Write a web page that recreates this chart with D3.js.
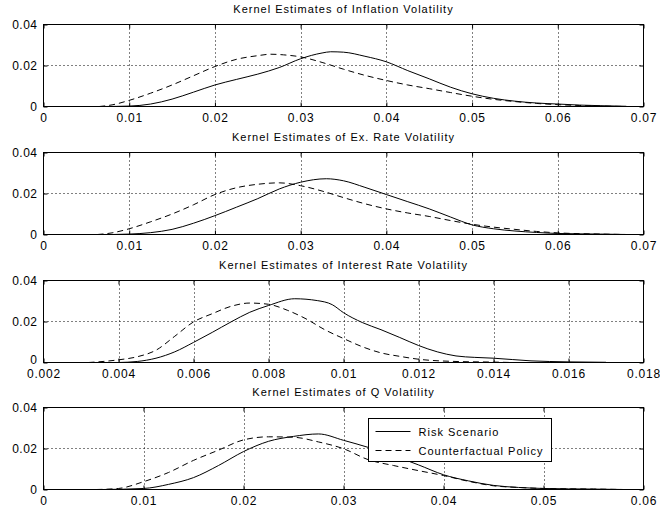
<html>

<head>
    <script src="https://d3js.org/d3.v7.min.js"></script>
    <style>
        body { margin: 0; background: #fff; }
        text { font-family: "Liberation Sans", Arial, sans-serif; }
    </style>
</head>

<body></body>
<script>

    // panel titles
    var titles = [
        "Kernel Estimates of Inflation Volatility",
        "Kernel Estimates of Ex. Rate Volatility",
        "Kernel Estimates of Interest Rate Volatility",
        "Kernel Estimates of Q Volatility"
    ];

    // x axis domains and ticks
    var xDomains = [[0, 0.07], [0, 0.07], [0.002, 0.018], [0, 0.06]];
    var xTicks = [
        [0, 0.01, 0.02, 0.03, 0.04, 0.05, 0.06, 0.07],
        [0, 0.01, 0.02, 0.03, 0.04, 0.05, 0.06, 0.07],
        [0.002, 0.004, 0.006, 0.008, 0.01, 0.012, 0.014, 0.016, 0.018],
        [0, 0.01, 0.02, 0.03, 0.04, 0.05, 0.06]
    ];
    var xTickLabels = [
        ["0", "0.01", "0.02", "0.03", "0.04", "0.05", "0.06", "0.07"],
        ["0", "0.01", "0.02", "0.03", "0.04", "0.05", "0.06", "0.07"],
        ["0.002", "0.004", "0.006", "0.008", "0.01", "0.012", "0.014", "0.016", "0.018"],
        ["0", "0.01", "0.02", "0.03", "0.04", "0.05", "0.06"]
    ];
    var yTicks = [0, 0.02, 0.04];
    var yTickLabels = ["0", "0.02", "0.04"];

    // inflation volatility
    var infRiskX = [0.007, 0.01, 0.0125, 0.015, 0.0175, 0.02, 0.0225, 0.025, 0.0275, 0.03, 0.0325, 0.0335, 0.035, 0.0375, 0.04, 0.0425, 0.045, 0.0475, 0.05, 0.0525, 0.055, 0.0575, 0.06, 0.0625, 0.065, 0.068];
    var infRiskY = [0, 0.0002, 0.0012, 0.0036, 0.007, 0.0105, 0.0132, 0.0158, 0.019, 0.0233, 0.0261, 0.0267, 0.0265, 0.0245, 0.0218, 0.0175, 0.0135, 0.0094, 0.0062, 0.004, 0.0026, 0.0017, 0.0012, 0.0007, 0.0004, 0.0001];
    var infCfX = [0.0065, 0.008, 0.01, 0.0125, 0.015, 0.0175, 0.02, 0.0225, 0.025, 0.0265, 0.028, 0.03, 0.0325, 0.035, 0.0375, 0.04, 0.0425, 0.045, 0.0475, 0.05, 0.0525, 0.055, 0.0575, 0.06, 0.0625, 0.065, 0.068];
    var infCfY = [0, 0.0008, 0.003, 0.0065, 0.0105, 0.015, 0.0195, 0.023, 0.0248, 0.0255, 0.0252, 0.0242, 0.0215, 0.0182, 0.0152, 0.0127, 0.0105, 0.0087, 0.0068, 0.005, 0.0035, 0.0024, 0.0015, 0.0009, 0.0005, 0.0002, 0];

    // exchange rate volatility
    var exRiskX = [0.008, 0.01, 0.0125, 0.015, 0.0175, 0.02, 0.0225, 0.025, 0.0275, 0.03, 0.033, 0.035, 0.0375, 0.04, 0.0425, 0.045, 0.0475, 0.05, 0.0525, 0.055, 0.0575, 0.06, 0.065, 0.068];
    var exRiskY = [0, 0.0002, 0.0009, 0.0025, 0.0055, 0.0092, 0.0133, 0.0175, 0.0222, 0.0255, 0.0272, 0.0262, 0.023, 0.0195, 0.016, 0.0125, 0.0085, 0.0047, 0.0028, 0.0017, 0.001, 0.0005, 0.0002, 0];
    var exCfX = [0.0063, 0.008, 0.01, 0.0125, 0.015, 0.0175, 0.02, 0.0225, 0.025, 0.0275, 0.03, 0.0325, 0.035, 0.0375, 0.04, 0.0425, 0.045, 0.0475, 0.05, 0.0525, 0.055, 0.0575, 0.06, 0.065, 0.068];
    var exCfY = [0, 0.0008, 0.0028, 0.0062, 0.01, 0.0145, 0.0195, 0.0228, 0.0245, 0.0252, 0.0238, 0.0212, 0.018, 0.015, 0.0125, 0.0105, 0.0088, 0.0068, 0.005, 0.0036, 0.0025, 0.0015, 0.0008, 0.0002, 0];

    // interest rate volatility
    var irRiskX = [0.004, 0.0045, 0.005, 0.0055, 0.006, 0.0065, 0.007, 0.0075, 0.008, 0.0087, 0.0093, 0.0097, 0.01, 0.0105, 0.011, 0.0115, 0.012, 0.0125, 0.013, 0.0135, 0.014, 0.015, 0.016, 0.017];
    var irRiskY = [0, 0.0005, 0.0021, 0.0052, 0.0098, 0.0147, 0.0198, 0.0245, 0.0278, 0.0311, 0.0302, 0.0282, 0.0243, 0.0195, 0.016, 0.0122, 0.0083, 0.0052, 0.0032, 0.0025, 0.0021, 0.0008, 0.0003, 0.0001];
    var irCfX = [0.0032, 0.004, 0.0045, 0.005, 0.0055, 0.006, 0.0065, 0.007, 0.0075, 0.008, 0.0085, 0.009, 0.0095, 0.01, 0.0105, 0.011, 0.0115, 0.012, 0.013, 0.014, 0.0145];
    var irCfY = [0, 0.0013, 0.0028, 0.006, 0.0128, 0.0198, 0.0238, 0.0274, 0.029, 0.0284, 0.0255, 0.0213, 0.016, 0.0117, 0.0077, 0.0047, 0.003, 0.0016, 0.0005, 0.0002, 0];

    // Q volatility
    var qRiskX = [0.006, 0.01, 0.0125, 0.015, 0.0175, 0.02, 0.0225, 0.025, 0.0275, 0.03, 0.0325, 0.035, 0.0375, 0.04, 0.0425, 0.045, 0.0475, 0.05, 0.055, 0.058];
    var qRiskY = [0, 0.0005, 0.0025, 0.0058, 0.0117, 0.0185, 0.0235, 0.0259, 0.0271, 0.024, 0.0205, 0.0165, 0.012, 0.0072, 0.0042, 0.002, 0.001, 0.0005, 0.0002, 0];
    var qCfX = [0.0053, 0.0075, 0.01, 0.0125, 0.015, 0.0175, 0.02, 0.0225, 0.025, 0.0275, 0.03, 0.0325, 0.035, 0.0375, 0.04, 0.0425, 0.045, 0.0475, 0.05, 0.055, 0.058];
    var qCfY = [0, 0.0005, 0.0038, 0.0083, 0.0142, 0.0192, 0.0242, 0.0257, 0.0255, 0.0232, 0.0199, 0.0145, 0.0117, 0.0092, 0.0068, 0.004, 0.0018, 0.001, 0.0005, 0.0002, 0];

    var riskX = [infRiskX, exRiskX, irRiskX, qRiskX];
    var riskY = [infRiskY, exRiskY, irRiskY, qRiskY];
    var cfX = [infCfX, exCfX, irCfX, qCfX];
    var cfY = [infCfY, exCfY, irCfY, qCfY];

    var legendLabels = ["Risk Scenario", "Counterfactual Policy"];

    // layout
    var left = 43.5, right = 643.5;
    var tops = [24.5, 152.5, 280.5, 407.5];
    var ph = 82;

    var svg = d3.select("body")
        .append("svg")
        .attr("width", 660)
        .attr("height", 512);

    titles.forEach(function (title, i) {
        var top = tops[i];
        var g = svg.append("g");

        var x = d3.scaleLinear().domain(xDomains[i]).range([left, right]);
        var y = d3.scaleLinear().domain([0, 0.04]).range([top + ph, top]);

        // dotted grid
        g.selectAll(".vgrid")
            .data(xTicks[i].slice(1, -1))
            .enter()
            .append("line")
            .attr("x1", d => Math.round(x(d)) + 0.5)
            .attr("x2", d => Math.round(x(d)) + 0.5)
            .attr("y1", top)
            .attr("y2", top + ph)
            .style("stroke", "#000")
            .style("stroke-width", 1)
            .style("stroke-dasharray", "1,3");

        g.append("line")
            .attr("x1", left)
            .attr("x2", right)
            .attr("y1", y(0.02))
            .attr("y2", y(0.02))
            .style("stroke", "#000")
            .style("stroke-dasharray", "1,3");

        // curves
        var makeLine = function (xs, ys) {
            return d3.line()
                .x(d => x(d))
                .y((d, k) => y(ys[k]))
                .curve(d3.curveMonotoneX)(xs);
        };

        g.append("path")
            .attr("d", makeLine(riskX[i], riskY[i]))
            .style("fill", "none")
            .style("stroke", "#000")
            .style("stroke-width", 1);

        g.append("path")
            .attr("d", makeLine(cfX[i], cfY[i]))
            .style("fill", "none")
            .style("stroke", "#000")
            .style("stroke-width", 1)
            .style("stroke-dasharray", "6,4");

        // frame
        g.append("rect")
            .attr("x", left)
            .attr("y", top)
            .attr("width", right - left)
            .attr("height", ph)
            .style("fill", "none")
            .style("stroke", "#000")
            .style("stroke-width", 1);

        // inward ticks (bottom/top)
        var bottomAxis = d3.axisBottom(x)
            .tickValues(xTicks[i])
            .tickSize(-4)
            .tickPadding(7)
            .tickFormat((d, k) => xTickLabels[i][k]);
        var xa = g.append("g")
            .attr("transform", "translate(0," + (top + ph) + ")")
            .call(bottomAxis);
        xa.select(".domain").remove();
        xa.selectAll("text")
            .style("font-size", "12px")
            .style("letter-spacing", "0.8px")
            .style("font-family", "'Liberation Sans', Arial, sans-serif")
            .attr("fill", "#000");

        var topAxis = d3.axisTop(x).tickValues(xTicks[i]).tickSize(-4).tickFormat("");
        var xt = g.append("g")
            .attr("transform", "translate(0," + top + ")")
            .call(topAxis);
        xt.select(".domain").remove();

        var leftAxis = d3.axisLeft(y)
            .tickValues(yTicks)
            .tickSize(-4)
            .tickPadding(6)
            .tickFormat((d, k) => yTickLabels[k]);
        var ya = g.append("g")
            .attr("transform", "translate(" + left + ",0)")
            .call(leftAxis);
        ya.select(".domain").remove();
        ya.selectAll("text")
            .style("font-size", "12px")
            .style("letter-spacing", "0.5px")
            .style("font-family", "'Liberation Sans', Arial, sans-serif")
            .attr("fill", "#000");

        // the "0" label sits right above the first x label in the third panel
        if (xDomains[i][0] > 0) {
            ya.selectAll("text").filter(d => d == 0).attr("dy", "0.12em");
        }

        var rightAxis = d3.axisRight(y).tickValues(yTicks).tickSize(-4).tickFormat("");
        var yr = g.append("g")
            .attr("transform", "translate(" + right + ",0)")
            .call(rightAxis);
        yr.select(".domain").remove();

        // title
        g.append("text")
            .attr("x", (left + right) / 2)
            .attr("y", top - 11.5)
            .style("text-anchor", "middle")
            .style("font-size", "11px")
            .style("letter-spacing", "1px")
            .text(title);
    });

    // legend in the last panel
    var lg = svg.append("g").attr("transform", "translate(368.5,418.5)");
    lg.append("rect")
        .attr("width", 183)
        .attr("height", 43)
        .style("fill", "#fff")
        .style("stroke", "#000");
    legendLabels.forEach(function (lab, k) {
        var ly = 13 + k * 19;
        lg.append("line")
            .attr("x1", 7)
            .attr("x2", 42)
            .attr("y1", ly)
            .attr("y2", ly)
            .style("stroke", "#000")
            .style("stroke-dasharray", k == 1 ? "6,4" : null);
        lg.append("text")
            .attr("x", 50)
            .attr("y", ly + 4)
            .style("font-size", "11px")
            .style("letter-spacing", "1px")
            .text(lab);
    });

</script>

</html>
